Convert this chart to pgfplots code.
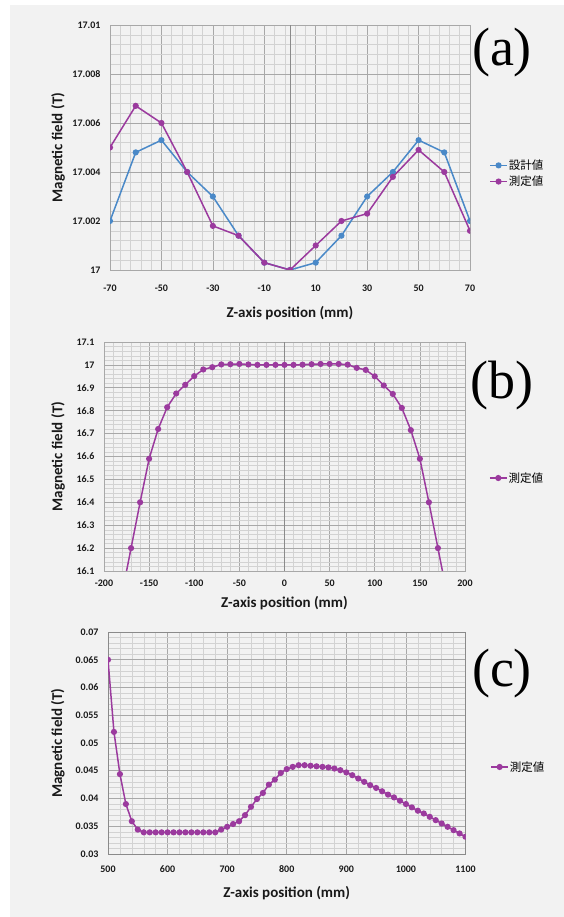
\documentclass[border=0pt]{standalone}
\usepackage{pgfplots}
\pgfplotsset{compat=1.18}
\usepackage{pgfplotstable}
\usepackage{fontspec}
\setmainfont{Carlito}
\newfontfamily\cjk{Noto Sans CJK JP}
\newfontfamily\tnr{Liberation Serif}

\definecolor{bgc}{HTML}{F2F2F2}
\definecolor{majc}{HTML}{A8A8A8}
\definecolor{minc}{HTML}{D2D2D2}
\definecolor{axc}{HTML}{8A8A8A}
\definecolor{design}{HTML}{4A89C8}
\definecolor{meas}{HTML}{9B3A9E}

% (a) field near the centre: design vs measured
\pgfplotstableread{
z     design   meas
-70   17.0020  17.0050
-60   17.0048  17.0067
-50   17.0053  17.0060
-40   17.0040  17.0040
-30   17.0030  17.0018
-20   17.0014  17.0014
-10   17.0003  17.0003
0     17.0000  17.0000
10    17.0003  17.0010
20    17.0014  17.0020
30    17.0030  17.0023
40    17.0040  17.0038
50    17.0053  17.0049
60    17.0048  17.0040
70    17.0020  17.0016
}\dataA

% (b) axial profile, measured
\pgfplotstableread{
z     meas
-180  16.000
-170  16.200
-160  16.400
-150  16.590
-140  16.720
-130  16.815
-120  16.875
-110  16.913
-100  16.951
-90   16.980
-80   16.990
-70   17.002
-60   17.003
-50   17.004
-40   17.002
-30   17.000
-20   17.000
-10   17.000
0     17.000
10    17.000
20    17.001
30    17.003
40    17.004
50    17.004
60    17.004
70    17.001
80    16.987
90    16.978
100   16.950
110   16.910
120   16.873
130   16.812
140   16.715
150   16.590
160   16.400
170   16.200
180   16.000
}\dataB

% (c) stray field, measured
\pgfplotstableread{
z     meas
500   0.0650
510   0.0520
520   0.0444
530   0.0390
540   0.0359
550   0.0344
560   0.0339
570   0.0339
580   0.0339
590   0.0339
600   0.0339
610   0.0339
620   0.0339
630   0.0339
640   0.0339
650   0.0339
660   0.0339
670   0.0339
680   0.0339
690   0.0344
700   0.0349
710   0.0354
720   0.0359
730   0.0370
740   0.0385
750   0.0399
760   0.0410
770   0.0425
780   0.0434
790   0.0446
800   0.0453
810   0.0457
820   0.0460
830   0.0460
840   0.0459
850   0.0458
860   0.0457
870   0.0456
880   0.0454
890   0.0451
900   0.0447
910   0.0442
920   0.0436
930   0.0430
940   0.0424
950   0.0419
960   0.0413
970   0.0407
980   0.0402
990   0.0396
1000  0.0390
1010  0.0384
1020  0.0378
1030  0.0373
1040  0.0367
1050  0.0361
1060  0.0355
1070  0.0349
1080  0.0343
1090  0.0337
1100  0.0331
}\dataC

\pgfplotsset{
  panel/.style={
    scale only axis,
    anchor=south west,
    axis background/.style={fill=bgc},
    grid=both,
    minor tick num=4,
    scaled x ticks=false, scaled y ticks=false,
    major grid style={draw=majc, line width=0.7pt},
    minor grid style={draw=minc, line width=0.45pt},
    axis line style={draw=majc, line width=0.7pt},
    major tick length=0pt, minor tick length=0pt,
    tick label style={font=\fontsize{10}{11}\selectfont\bfseries, text=black!90},
    label style={font=\fontsize{15}{17}\selectfont\bfseries, text=black!90},
    xlabel={Z-axis position (mm)},
    ylabel={Magnetic field (T)},
    legend style={draw=none, fill=none, anchor=west, inner sep=0pt,
      font=\cjk\fontsize{11.5}{13}\selectfont, row sep=3pt,
      nodes={inner sep=1pt}},
    legend cell align=left,
    clip marker paths=true,
  },
  ser/.style={color=#1, line width=1.5pt, mark=*, mark size=2.3pt,
    mark options={solid, fill=#1, draw=#1}},
}

\begin{document}
\begin{tikzpicture}
\path[use as bounding box] (0,0) rectangle (564pt,917pt);
\fill[white] (0,0) rectangle (564pt,917pt);
\fill[bgc] (10pt,0) rectangle (564pt,912pt);

% ---------- (a) ----------
\begin{axis}[panel, at={(110pt,647pt)}, width=360pt, height=245pt,
  xmin=-70, xmax=70, ymin=17, ymax=17.01,
  xtick={-70,-50,-30,-10,10,30,50,70},
  xticklabels={-70,-50,-30,-10,10,30,50,70},
  ytick={17,17.002,17.004,17.006,17.008,17.01},
  yticklabels={17,17.002,17.004,17.006,17.008,17.01},
  extra x ticks={0}, extra x tick labels={},
  extra x tick style={grid=major, major grid style={draw=axc, line width=1pt}},
  xticklabel style={yshift=-11pt},
  yticklabel style={xshift=-6pt},
  xlabel style={at={(axis description cs:0.5,-0.176)}, anchor=center},
  ylabel style={at={(axis description cs:-0.144,0.5)}, anchor=center},
  legend style={at={(axis description cs:1.053,0.394)}},
]
\addplot[ser=design] table[x=z, y=design] {\dataA};
\addlegendentry{設計値}
\addplot[ser=meas] table[x=z, y=meas] {\dataA};
\addlegendentry{測定値}
\end{axis}
\node[font=\tnr\fontsize{54}{60}\selectfont, anchor=center] at (502pt,864pt) {(a)};

% ---------- (b) ----------
\begin{axis}[panel, at={(104pt,346pt)}, width=361pt, height=229pt,
  xmin=-200, xmax=200, ymin=16.1, ymax=17.1,
  xtick={-200,-150,-100,-50,0,50,100,150,200},
  xticklabels={-200,-150,-100,-50,0,50,100,150,200},
  ytick={16.1,16.2,16.3,16.4,16.5,16.6,16.7,16.8,16.9,17,17.1},
  yticklabels={16.1,16.2,16.3,16.4,16.5,16.6,16.7,16.8,16.9,17,17.1},
  extra x ticks={0}, extra x tick labels={},
  extra x tick style={grid=major, major grid style={draw=axc, line width=1pt}},
  xticklabel style={yshift=-5pt},
  yticklabel style={xshift=-6pt},
  xlabel style={at={(axis description cs:0.5,-0.14)}, anchor=center},
  ylabel style={at={(axis description cs:-0.127,0.5)}, anchor=center},
  legend style={at={(axis description cs:1.066,0.406)}},
]
\addplot[ser=meas] table[x=z, y=meas] {\dataB};
\addlegendentry{測定値}
\end{axis}
\node[font=\tnr\fontsize{54}{60}\selectfont, anchor=center] at (502pt,531pt) {(b)};

% ---------- (c) ----------
\begin{axis}[panel, at={(108pt,63pt)}, width=357.5pt, height=222pt,
  xmin=500, xmax=1100, ymin=0.03, ymax=0.07,
  xtick={500,600,700,800,900,1000,1100},
  xticklabels={500,600,700,800,900,1000,1100},
  ytick={0.03,0.035,0.04,0.045,0.05,0.055,0.06,0.065,0.07},
  yticklabels={0.03,0.035,0.04,0.045,0.05,0.055,0.06,0.065,0.07},
  axis line style={draw=axc, line width=0.8pt},
  xticklabel style={yshift=-8pt},
  yticklabel style={xshift=-6pt},
  xlabel style={at={(axis description cs:0.5,-0.176)}, anchor=center},
  ylabel style={at={(axis description cs:-0.14,0.5)}, anchor=center},
  legend style={at={(axis description cs:1.069,0.392)}},
]
\addplot[ser=meas] table[x=z, y=meas] {\dataC};
\addlegendentry{測定値}
\end{axis}
\node[font=\tnr\fontsize{54}{60}\selectfont, anchor=center] at (502pt,243pt) {(c)};
\end{tikzpicture}
\end{document}
